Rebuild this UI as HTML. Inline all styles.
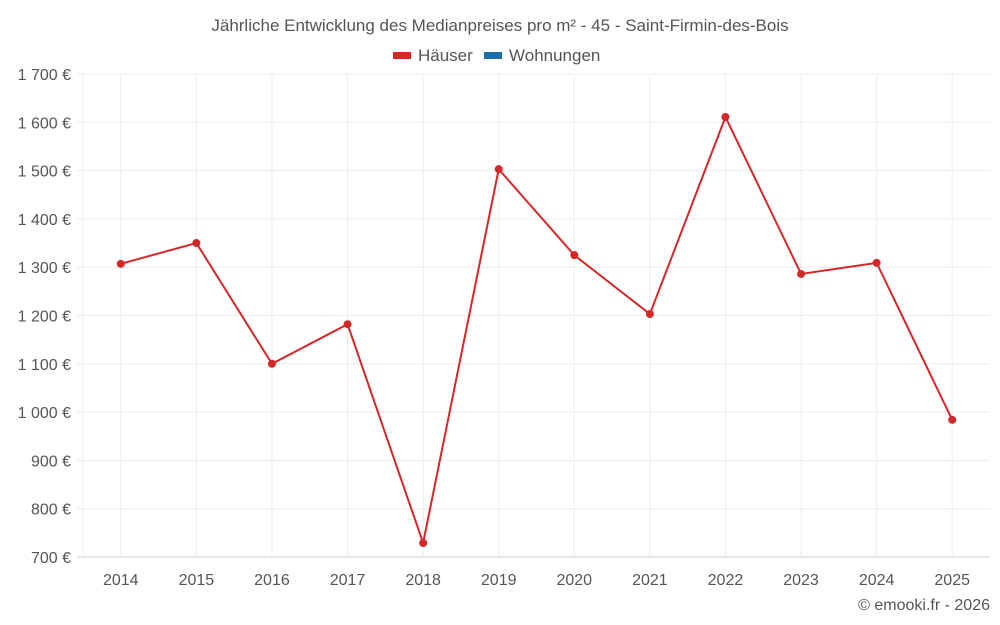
<!DOCTYPE html>
<html><head><meta charset="utf-8">
<style>
html,body{margin:0;padding:0;background:#fff;}
svg{display:block;font-family:"Liberation Sans",Roboto,sans-serif;}
</style></head>
<body>
<svg id="chart" width="1000" height="625" xmlns="http://www.w3.org/2000/svg">
<text x="500" y="31" text-anchor="middle" font-size="17" fill="#555">Jährliche Entwicklung des Medianpreises pro m² - 45 - Saint-Firmin-des-Bois</text>
<g>
<g><rect x="393" y="52" width="18" height="7" fill="#d62728"/><text x="418" y="61" font-size="17" fill="#555">Häuser</text></g>
<g><rect x="484" y="52" width="18" height="7" fill="#1f6fa6"/><text x="509" y="61" font-size="17" fill="#555">Wohnungen</text></g>
</g>
<g id="grid"></g>
<g id="yaxis"></g>
<g id="xaxis"></g>
<g id="series"></g>
<text x="990" y="610" text-anchor="end" font-size="16" fill="#555">© emooki.fr - 2026</text>
</svg>
<script>
const years = ["2014","2015","2016","2017","2018","2019","2020","2021","2022","2023","2024","2025"];
const houses = [1307,1350,1100,1182,729,1503,1325,1203,1611,1286,1309,984];
const yTicks = [700,800,900,1000,1100,1200,1300,1400,1500,1600,1700];
const NS="http://www.w3.org/2000/svg";
const L=83,R=990,T=74,B=557,yMin=700,yMax=1700;
const band=(R-L)/years.length;
const x=i=>L+band*(i+0.5);
const y=v=>B-(v-yMin)/(yMax-yMin)*(B-T);
function mk(tag,attrs,parent){const e=document.createElementNS(NS,tag);for(const k in attrs)e.setAttribute(k,attrs[k]);parent.appendChild(e);return e;}
const grid=document.getElementById('grid'),ya=document.getElementById('yaxis'),xa=document.getElementById('xaxis'),ser=document.getElementById('series');
const fmt=v=>{const s=String(v);return (s.length>3?s.slice(0,-3)+" "+s.slice(-3):s)+" €";};
yTicks.forEach(v=>{
  const l=mk('line',{x1:77,x2:R,y1:y(v),y2:y(v),stroke:v===yMin?'#ccc':'#ececec','stroke-width':1},grid);
  
  
  const t=mk('text',{x:71,y:y(v)+6,'text-anchor':'end','font-size':16,fill:'#555'},ya);
  t.textContent=fmt(v);
  
  
});
const le=mk('line',{x1:L,x2:L,y1:T,y2:B,stroke:'#ececec','stroke-width':1},grid);


years.forEach((yr,i)=>{
  const g=mk('line',{x1:x(i),x2:x(i),y1:T,y2:B,stroke:'#ececec','stroke-width':1},grid);
  
  
  const t=mk('text',{x:x(i),y:585,'text-anchor':'middle','font-size':16,fill:'#555'},xa);
  t.textContent=yr;
  
  
});
const p=mk('polyline',{points:houses.map((v,i)=>x(i)+','+y(v)).join(' '),fill:'none',stroke:'#d62728','stroke-width':2},ser);


houses.forEach((v,i)=>{
  const c=mk('circle',{cx:x(i),cy:y(v),r:4,fill:'#d62728'},ser);
  
  
});
</script>
</body></html>
